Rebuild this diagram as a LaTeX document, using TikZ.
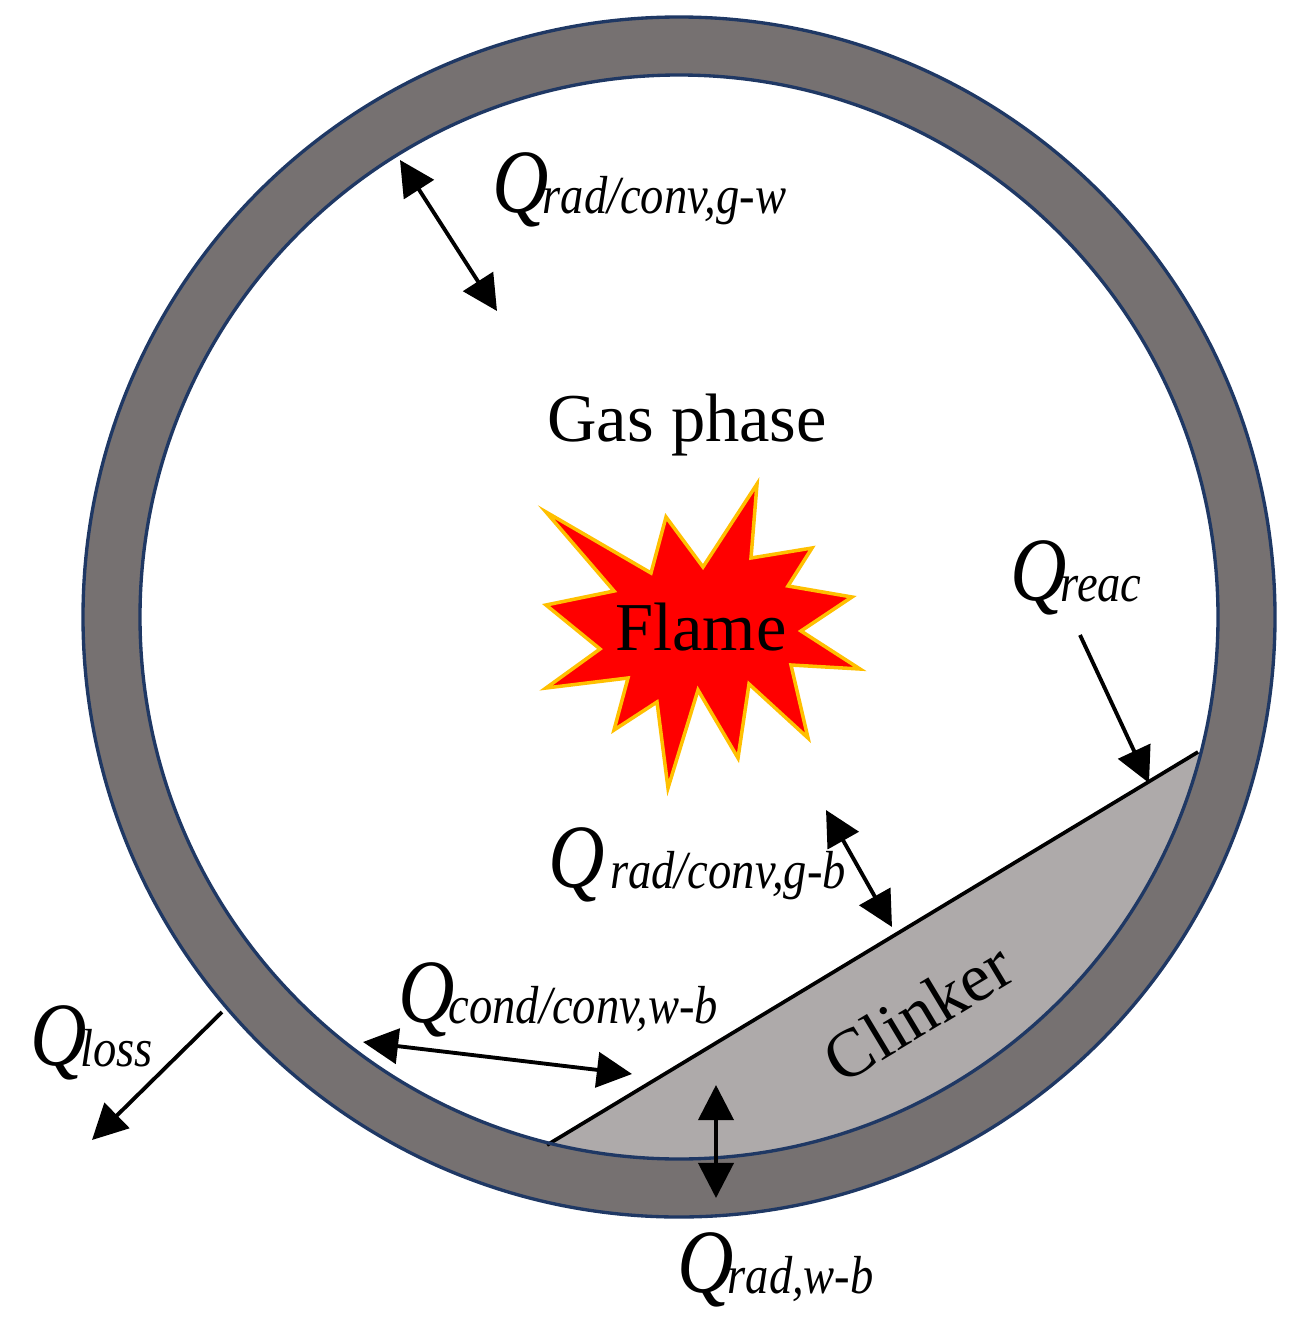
\documentclass[tikz,border=0pt]{standalone}
\usepackage{fontspec}
\setmainfont{Liberation Serif}
\usetikzlibrary{arrows.meta}

\definecolor{wallgray}{HTML}{767171}
\definecolor{clinkergray}{HTML}{AEAAAA}
\definecolor{rimblue}{HTML}{1F3864}
\definecolor{flamerim}{HTML}{FFC000}

% heat label: big italic Q with a long subscript
\newcommand{\heatlabel}[1]{\scalebox{1.14}[1.32]{\fontsize{39}{39}\selectfont\textit{Q}}\kern-3.5pt\raisebox{-1pt}{\scalebox{1}[1.15]{\fontsize{26.5}{26.5}\selectfont\textit{#1}}}}

\tikzset{
    rim/.style={draw=rimblue, line width=1.9pt},
    heatarrow/.style={line width=2.2pt, -{Triangle[length=20pt, width=20pt]}},
    heatboth/.style={line width=2.2pt, {Triangle[length=20pt, width=20pt]}-{Triangle[length=20pt, width=20pt]}},
    heattext/.style={anchor=base west, inner sep=0pt},
    bigtext/.style={inner sep=0pt, font=\fontsize{39}{39}\selectfont}
}

\begin{document}
\begin{tikzpicture}[x=0.02cm, y=-0.02cm]
    \useasboundingbox (0,0) rectangle (1311,1325);
    \coordinate (hub) at (679,617);

    % kiln wall
    \fill[wallgray] (hub) ellipse [x radius=596, y radius=600];
    \draw[rim] (hub) ellipse [x radius=596, y radius=600];
    \fill[white] (hub) ellipse [x radius=539, y radius=542];

    % clinker bed, cut by the inner wall
    \coordinate (bedleft) at (547,1145);
    \coordinate (bedright) at (1198,752);
    \begin{scope}
        \clip (hub) ellipse [x radius=539, y radius=542];
        \fill[clinkergray] (bedleft) -- (bedright) -- (1311,752) -- (1311,1325) -- (547,1325) -- cycle;
    \end{scope}
    \draw[line width=2.1pt] (bedleft) -- (bedright);
    \draw[rim] (hub) ellipse [x radius=539, y radius=542];

    % flame
    \draw[fill=red, draw=flamerim, line width=2pt]
        (546,512) -- (651,573) -- (666,517) -- (703,567) -- (757,484) -- (751,558)
        -- (812,548) -- (788,586) -- (852,597) -- (801,631) -- (860,669) -- (791,665)
        -- (808,738) -- (749,684) -- (738,758) -- (698,690) -- (668,788) -- (657,702)
        -- (614,730) -- (628,678) -- (546,688) -- (600,649) -- (546,605) -- (614,591) -- cycle;

    % plain texts
    \node[bigtext, anchor=base west] (flame) at (615,650) {Flame};
    \node[bigtext, anchor=base west] (gas) at (547,441) {Gas phase};
    \node[bigtext, rotate=31] (clinker) at (918,1012) {Clinker};

    % heat flow labels
    \node[heattext] (qgw) at (492,212) {\heatlabel{rad/conv,g-w}};
    \node[heattext] (qgb) at (548,887) {\heatlabel{\ rad/conv,g-b}};
    \node[heattext] (qwb) at (398,1022) {\heatlabel{cond/conv,w-b}};
    \node[heattext] (qloss) at (30,1065) {\heatlabel{loss}};
    \node[heattext] (qrad) at (677,1292) {\heatlabel{rad,w-b}};
    \node[heattext] (qreac) at (1010,600) {\heatlabel{reac}};

    % heat flow arrows
    \coordinate (gwa) at (400,160);
    \coordinate (gwb) at (497,311);
    \coordinate (gba) at (826,810);
    \coordinate (gbb) at (892,927);
    \coordinate (wba) at (363,1042);
    \coordinate (wbb) at (632,1074);
    \coordinate (lossa) at (222,1012);
    \coordinate (lossb) at (92,1140);
    \coordinate (rada) at (716,1085);
    \coordinate (radb) at (716,1198);
    \coordinate (reaca) at (1080,635);
    \coordinate (reacb) at (1149,783);
    \draw[heatboth] (gwa) -- (gwb);
    \draw[heatboth] (gba) -- (gbb);
    \draw[heatboth] (wba) -- (wbb);
    \draw[heatboth] (rada) -- (radb);
    \draw[heatarrow] (lossa) -- (lossb);
    \draw[heatarrow] (reaca) -- (reacb);
\end{tikzpicture}
\end{document}
